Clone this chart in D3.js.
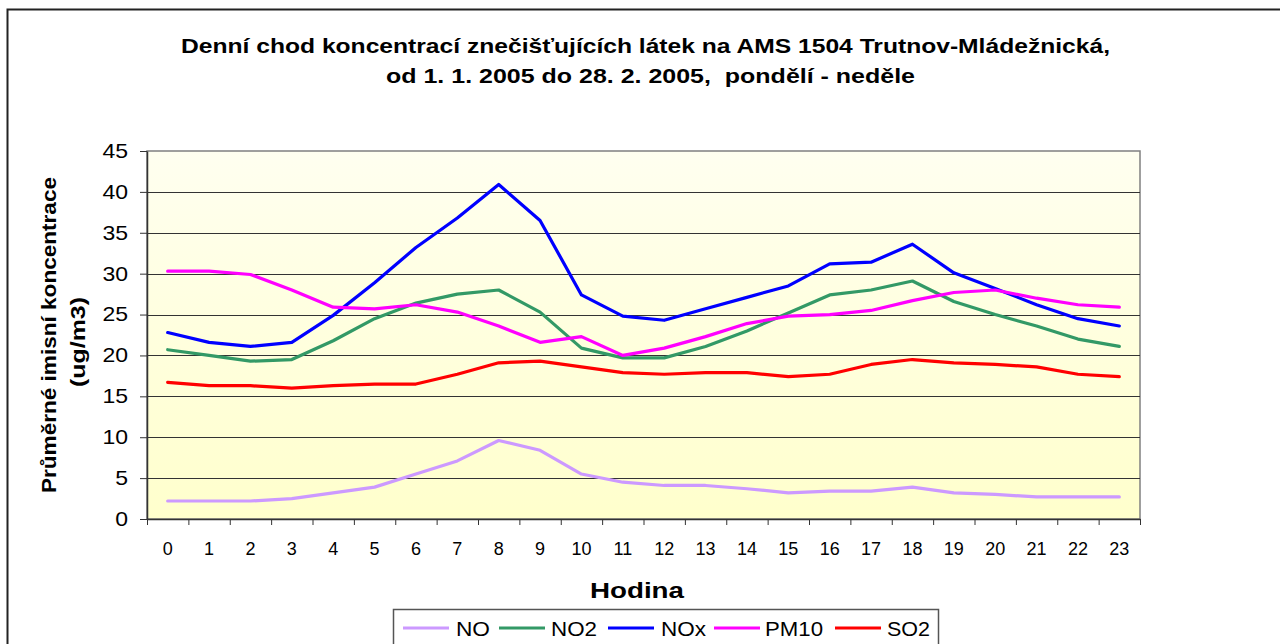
<!DOCTYPE html>
<html>
<head>
<meta charset="utf-8">
<script src="https://cdn.jsdelivr.net/npm/d3@7/dist/d3.min.js"></script>
<style>
  html, body { margin: 0; padding: 0; background: #fff; }
  svg { display: block; font-family: "Liberation Sans", Arial, sans-serif; }
  text { white-space: pre; }
</style>
</head>
<body>
<svg id="chart" width="1280" height="644"></svg>
<script>
// Hourly averages, 1. 1. 2005 – 28. 2. 2005, AMS 1504 Trutnov-Mládežnická
const hours = d3.range(0, 24);
const yTicks = [0, 5, 10, 15, 20, 25, 30, 35, 40, 45];
const seriesNames = ["NO", "NO2", "NOx", "PM10", "SO2"];
const seriesColors = ["#CC99FF", "#339966", "#0000FF", "#FF00FF", "#FF0000"];

const NO   = [2.2, 2.2, 2.2, 2.5, 3.2, 3.9, 5.5, 7.1, 9.6, 8.4, 5.5, 4.5, 4.1, 4.1, 3.7, 3.2, 3.4, 3.4, 3.9, 3.2, 3.0, 2.7, 2.7, 2.7];
const NO2  = [20.7, 20.0, 19.3, 19.5, 21.8, 24.5, 26.4, 27.5, 28.0, 25.3, 20.9, 19.7, 19.7, 21.1, 23.0, 25.2, 27.4, 28.0, 29.1, 26.6, 25.0, 23.6, 22.0, 21.1];
const NOx  = [22.8, 21.6, 21.1, 21.6, 24.9, 28.9, 33.2, 36.8, 40.9, 36.5, 27.4, 24.8, 24.3, 25.7, 27.1, 28.5, 31.2, 31.4, 33.6, 30.1, 28.2, 26.2, 24.5, 23.6];
const PM10 = [30.3, 30.3, 29.9, 28.0, 25.9, 25.7, 26.2, 25.3, 23.6, 21.6, 22.3, 20.0, 20.9, 22.3, 23.9, 24.8, 25.0, 25.5, 26.7, 27.7, 28.0, 27.0, 26.2, 25.9];
const SO2  = [16.7, 16.3, 16.3, 16.0, 16.3, 16.5, 16.5, 17.7, 19.1, 19.3, 18.6, 17.9, 17.7, 17.9, 17.9, 17.4, 17.7, 18.9, 19.5, 19.1, 18.9, 18.6, 17.7, 17.4];

const seriesValues = [NO, NO2, NOx, PM10, SO2];
const series = seriesNames.map((name, i) => ({ name, color: seriesColors[i], values: seriesValues[i] }));

const titleLines = [
  "Denní chod koncentrací znečišťujících látek na AMS 1504 Trutnov-Mládežnická,",
  "od 1. 1. 2005 do 28. 2. 2005,  pondělí - neděle"
];

const svg = d3.select("#chart");
const plot = { left: 147, right: 1140, top: 151, bottom: 519 };

// outer chart frame (runs past the right and bottom edges)
svg.append("rect")
  .attr("x", 7.5).attr("y", 9.5)
  .attr("width", 1400).attr("height", 800)
  .attr("fill", "#fff").attr("stroke", "#222").attr("stroke-width", 2);

// plot background gradient
const defs = svg.append("defs");
const grad = defs.append("linearGradient").attr("id", "plotBg")
  .attr("x1", 0).attr("y1", 0).attr("x2", 0).attr("y2", 1);
grad.append("stop").attr("offset", "0%").attr("stop-color", "#FFFFF0");
grad.append("stop").attr("offset", "100%").attr("stop-color", "#FFFFCC");

const x = d3.scaleBand().domain(hours).range([plot.left, plot.right]);
const xEdge = d3.scaleLinear().domain([0, 24]).range([plot.left, plot.right]);
const y = d3.scaleLinear().domain([0, 45]).range([plot.bottom, plot.top]);

svg.append("rect")
  .attr("x", plot.left).attr("y", plot.top)
  .attr("width", plot.right - plot.left).attr("height", plot.bottom - plot.top)
  .attr("fill", "url(#plotBg)").attr("stroke", "#808080").attr("stroke-width", 1.5);

// horizontal gridlines
svg.append("g")
  .selectAll("line")
  .data(yTicks.filter(d => d > 0 && d < 45))
  .join("line")
  .attr("x1", plot.left).attr("x2", plot.right)
  .attr("y1", d => Math.round(y(d)) + 0.5).attr("y2", d => Math.round(y(d)) + 0.5)
  .attr("stroke", "#333").attr("stroke-width", 1);

// y axis
const yAxis = svg.append("g")
  .attr("transform", `translate(${plot.left},0)`)
  .call(d3.axisLeft(y).tickValues(yTicks).tickSize(7).tickPadding(0).tickSizeOuter(0));
yAxis.select(".domain").attr("stroke", "#333").attr("stroke-width", 1.5);
yAxis.selectAll(".tick line").attr("stroke", "#333");
yAxis.selectAll(".tick text")
  .attr("x", 0)
  .attr("font-size", 20).attr("fill", "#000")
  .attr("font-family", "Liberation Sans, Arial, sans-serif")
  .attr("transform", "translate(-19,0) scale(1.15,1)");

// x axis: ticks on the category boundaries, labels on the centres
const xTicks = svg.append("g")
  .attr("transform", `translate(0,${plot.bottom})`)
  .call(d3.axisBottom(xEdge).tickValues(d3.range(0, 25)).tickSize(6).tickFormat("").tickSizeOuter(0));
xTicks.select(".domain").attr("stroke", "#333").attr("stroke-width", 1.5);
xTicks.selectAll(".tick line").attr("stroke", "#333");

const xLabels = svg.append("g")
  .attr("transform", `translate(0,${plot.bottom})`)
  .call(d3.axisBottom(x).tickSize(0).tickPadding(23));
xLabels.select(".domain").remove();
xLabels.selectAll(".tick text")
  .attr("font-size", 18).attr("fill", "#000")
  .attr("font-family", "Liberation Sans, Arial, sans-serif");

// series lines
const line = d3.line()
  .x((d, i) => x(hours[i]) + x.bandwidth() / 2)
  .y(d => y(d));

svg.append("g")
  .selectAll("path")
  .data(series)
  .join("path")
  .attr("d", d => line(d.values))
  .attr("fill", "none")
  .attr("stroke", d => d.color)
  .attr("stroke-width", 3.2)
  .attr("stroke-linejoin", "round")
  .attr("stroke-linecap", "round");

// title
svg.append("g").selectAll("text")
  .data(titleLines)
  .join("text")
  .attr("x", (d, i) => i === 0 ? 645.5 : 650.5)
  .attr("y", (d, i) => 53 + i * 30)
  .attr("text-anchor", "middle")
  .attr("font-size", 21).attr("font-weight", "bold")
  .attr("textLength", (d, i) => i === 0 ? 929 : 529)
  .attr("lengthAdjust", "spacingAndGlyphs")
  .text(d => d);

// y axis title
const yTitle = svg.append("g").attr("transform", "translate(0,335) rotate(-90)");
yTitle.append("text")
  .attr("x", 0).attr("y", 56)
  .attr("text-anchor", "middle")
  .attr("font-size", 20).attr("font-weight", "bold")
  .attr("textLength", 316).attr("lengthAdjust", "spacingAndGlyphs")
  .text("Průměrné imisní koncentrace");
yTitle.append("text")
  .attr("x", -7).attr("y", 85)
  .attr("text-anchor", "middle")
  .attr("font-size", 20).attr("font-weight", "bold")
  .attr("textLength", 90).attr("lengthAdjust", "spacingAndGlyphs")
  .text("(ug/m3)");

// x axis title
svg.append("text")
  .attr("x", 637).attr("y", 598)
  .attr("text-anchor", "middle")
  .attr("font-size", 22).attr("font-weight", "bold")
  .attr("textLength", 94).attr("lengthAdjust", "spacingAndGlyphs")
  .text("Hodina");

// legend
const legendItems = [
  { lx: 403, tx: 456 },
  { lx: 499, tx: 551 },
  { lx: 608, tx: 661 },
  { lx: 714, tx: 765 },
  { lx: 835, tx: 887 }
];
const legendWidths = [34, 46, 45, 58, 43];
const legend = svg.append("g");
legend.append("rect")
  .attr("x", 393.5).attr("y", 609.5)
  .attr("width", 545).attr("height", 60)
  .attr("fill", "#fff").attr("stroke", "#555").attr("stroke-width", 1.5);
const li = legend.selectAll("g.item")
  .data(series)
  .join("g").attr("class", "item");
li.append("line")
  .attr("x1", (d, i) => legendItems[i].lx).attr("x2", (d, i) => legendItems[i].lx + 46)
  .attr("y1", 628).attr("y2", 628)
  .attr("stroke", d => d.color).attr("stroke-width", 3.2);
li.append("text")
  .attr("x", (d, i) => legendItems[i].tx).attr("y", 636)
  .attr("font-size", 20)
  .attr("textLength", (d, i) => legendWidths[i]).attr("lengthAdjust", "spacingAndGlyphs")
  .text(d => d.name);
</script>
</body>
</html>
